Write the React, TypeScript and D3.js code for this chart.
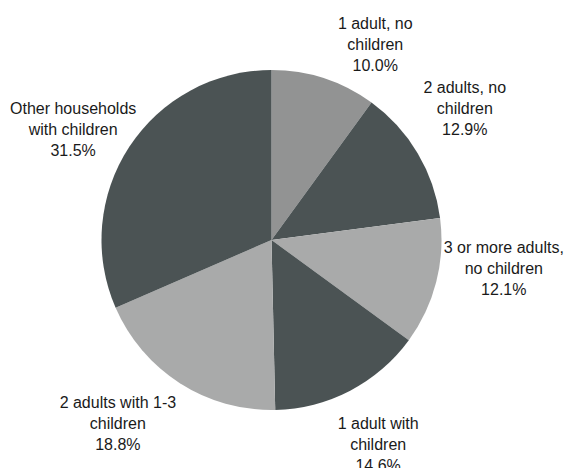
import React from "react";
import * as d3 from "d3";

const categories = [
  ["1 adult, no", "children"],
  ["2 adults, no", "children"],
  ["3 or more adults,", "no children"],
  ["1 adult with", "children"],
  ["2 adults with 1-3", "children"],
  ["Other households", "with children"],
];
const values = [10.0, 12.9, 12.1, 14.6, 18.8, 31.5];
const valueLabels = ["10.0%", "12.9%", "12.1%", "14.6%", "18.8%", "31.5%"];

const colors = ["#929393", "#4b5354", "#a9aaaa", "#4b5354", "#a9aaaa", "#4b5354"];
// label placement (polar: angle in degrees clockwise from top, distance from centre)
const labelAngle = [28, 55.7, 96.9, 152.5, 220, 299.1];
const labelDist = [221, 234, 234, 231, 239, 227];

export default function App() {
  const W = 567, H = 468;
  const cx = 271.5, cy = 240, r = 170;
  const pie = d3.pie<number>().value((d) => d).sort(null);
  const arcs = pie(values);
  const arc = d3.arc<d3.PieArcDatum<number>>().innerRadius(0).outerRadius(r);
  const lh = 21;
  return (
    <svg width={W} height={H} style={{ position: "absolute", left: 0, top: 0 }}>
      <rect width={W} height={H} fill="#fff" />
      <g transform={`translate(${cx},${cy})`}>
        {arcs.map((a, i) => (
          <path key={i} d={arc(a) || ""} fill={colors[i]} />
        ))}
        {arcs.map((a, i) => {
          const ang = (labelAngle[i] * Math.PI) / 180;
          const x = Math.sin(ang) * labelDist[i];
          const y = -Math.cos(ang) * labelDist[i];
          const lines = [...categories[i], valueLabels[i]];
          return (
            <text
              key={"t" + i}
              x={x}
              y={y}
              textAnchor="middle"
              fontFamily="Liberation Sans, Arial, Helvetica, sans-serif"
              fontSize={16}
              fill="#1a1a1a"
            >
              {lines.map((l, j) => (
                <tspan key={j} x={x} y={y + (j - 1) * lh} dy="0.35em">
                  {l}
                </tspan>
              ))}
            </text>
          );
        })}
      </g>
    </svg>
  );
}
